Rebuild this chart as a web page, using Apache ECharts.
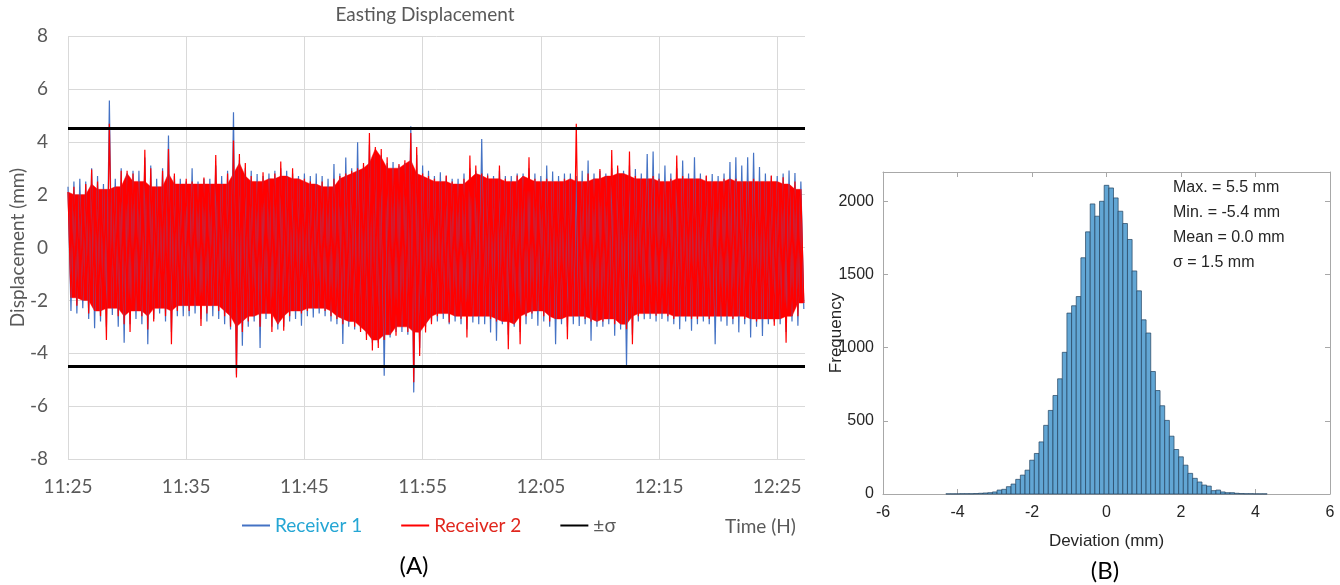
<!DOCTYPE html>
<html>
<head>
<meta charset="utf-8">
<script src="https://cdn.jsdelivr.net/npm/echarts@6/dist/echarts.min.js"></script>
<style>html,body{margin:0;padding:0;background:#fff}#c{width:1340px;height:585px}</style>
</head>
<body>
<div id="c"></div>
<script>
// ---------- Panel A: time series ----------
const timeTickLabels = ['11:25', '11:35', '11:45', '11:55', '12:05', '12:15', '12:25'];
const timeSpanMin = 62.35;       // minutes shown after 11:25
const stepMin = 0.5;             // one envelope column every half minute
// Receiver 1 (blue) column maxima / minima, mm
const r1High = [2.3, 2.5, 2.6, 2.5, 3.0, 2.7, 2.4, 5.56, 2.6, 3.0,
  2.8, 2.9, 2.9, 3.4, 3.1, 2.6, 3.0, 4.24, 2.7, 2.6,
  2.5, 3.0, 2.5, 2.6, 2.6, 3.1, 2.7, 2.9, 5.12, 3.3,
  3.0, 2.9, 2.78, 2.7, 2.8, 2.9, 3.0, 2.9, 2.8, 2.7,
  2.8, 2.7, 2.8, 2.7, 2.6, 3.16, 2.8, 3.4, 3.0, 3.98,
  3.1, 3.9, 3.5, 3.5, 3.2, 3.23, 3.1, 3.2, 4.59, 3.5,
  3.1, 2.9, 2.7, 2.85, 2.7, 2.6, 2.6, 2.8, 3.0, 2.9,
  4.1, 2.8, 2.7, 2.9, 2.7, 2.7, 2.8, 2.8, 3.0, 2.8,
  2.7, 3.1, 2.87, 2.7, 2.8, 2.8, 2.7, 2.9, 3.29, 2.8,
  2.9, 2.8, 3.0, 3.0, 2.9, 3.1, 2.97, 2.8, 3.54, 3.63,
  2.8, 3.1, 2.8, 3.0, 3.29, 2.8, 3.41, 2.8, 2.7, 2.78,
  2.7, 2.8, 3.23, 3.41, 3.1, 3.41, 3.58, 3.04, 2.8, 2.7,
  2.7, 2.8, 2.91, 2.82, 2.5];
const r1Low = [-2.4, -2.5, -2.3, -2.7, -3.05, -2.8, -3.0, -2.55, -3.0, -3.6,
  -2.9, -2.7, -2.9, -3.66, -2.7, -2.5, -2.8, -3.2, -2.6, -2.6,
  -2.6, -2.5, -2.7, -2.8, -2.6, -2.7, -2.9, -3.1, -4.8, -3.72,
  -3.0, -2.8, -3.8, -2.7, -3.0, -3.1, -3.0, -2.8, -2.7, -2.96,
  -2.6, -2.65, -2.5, -2.6, -2.8, -2.9, -3.65, -3.0, -3.1, -3.09,
  -3.3, -3.6, -3.6, -4.85, -3.4, -3.2, -3.2, -3.3, -5.48, -3.8,
  -3.0, -2.8, -2.8, -2.7, -2.9, -2.8, -2.9, -3.1, -2.84, -2.9,
  -2.9, -3.21, -3.53, -2.9, -3.3, -3.0, -3.2, -2.9, -2.7, -2.96,
  -2.8, -3.0, -3.66, -2.9, -3.0, -2.9, -2.97, -2.9, -3.53, -3.0,
  -3.0, -2.9, -3.34, -3.1, -4.48, -3.3, -2.8, -2.71, -2.7, -2.8,
  -2.7, -2.8, -2.9, -3.09, -2.8, -3.15, -2.9, -2.8, -2.9, -3.66,
  -2.8, -2.96, -2.9, -3.21, -2.9, -3.4, -3.0, -3.35, -2.9, -2.8,
  -2.9, -3.2, -2.8, -2.96, -2.33];
// Receiver 2 (red) column maxima / minima, mm
const r2High = [2.1, 2.3, 2.0, 2.4, 2.95, 2.5, 2.2, 4.68, 2.3, 2.9,
  2.9, 2.8, 2.5, 3.7, 3.0, 2.3, 2.9, 3.73, 2.8, 2.4,
  2.6, 2.5, 2.4, 2.65, 2.4, 3.5, 2.4, 2.8, 4.05, 3.54,
  3.2, 2.7, 2.5, 2.85, 2.6, 2.8, 3.25, 2.7, 3.0, 2.6,
  2.6, 2.5, 2.4, 2.5, 2.3, 2.6, 2.7, 2.8, 2.9, 3.0,
  3.2, 4.33, 3.8, 3.73, 3.41, 3.0, 3.16, 3.3, 4.33, 3.8,
  2.8, 2.7, 2.6, 2.5, 2.72, 2.5, 2.4, 2.6, 3.48, 3.1,
  2.8, 2.72, 2.6, 3.1, 2.6, 2.5, 2.72, 2.7, 3.41, 2.6,
  2.5, 2.6, 2.5, 2.5, 2.6, 2.6, 4.68, 2.5, 2.8, 2.6,
  2.97, 2.7, 3.69, 3.1, 2.8, 3.63, 2.7, 2.6, 2.6, 2.7,
  2.6, 2.5, 2.6, 3.48, 2.7, 2.6, 2.6, 2.6, 2.72, 2.5,
  2.5, 2.6, 2.6, 2.6, 2.5, 2.5, 2.6, 2.5, 2.5, 2.72,
  2.5, 2.66, 2.4, 2.5, 2.2];
const r2Low = [-1.9, -2.2, -2.0, -2.5, -2.4, -2.6, -3.5, -2.3, -2.6, -2.9,
  -3.2, -2.4, -2.6, -3.1, -2.8, -2.3, -2.6, -3.66, -2.4, -2.2,
  -2.4, -2.2, -2.97, -2.5, -2.2, -2.4, -2.6, -3.0, -4.92, -3.2,
  -2.8, -2.6, -3.0, -2.5, -3.2, -2.9, -3.15, -2.6, -2.4, -2.5,
  -2.4, -2.3, -2.3, -2.4, -2.6, -2.7, -2.9, -2.8, -3.0, -3.2,
  -3.5, -3.9, -3.8, -3.5, -3.3, -3.34, -3.0, -3.2, -5.1, -4.1,
  -3.21, -2.9, -2.6, -2.5, -2.84, -2.6, -2.7, -3.4, -2.6, -2.6,
  -2.6, -2.7, -2.8, -2.8, -3.85, -2.9, -3.66, -2.6, -2.5, -2.4,
  -2.6, -2.8, -2.7, -2.7, -3.47, -2.6, -2.6, -2.7, -2.8, -2.8,
  -2.8, -2.7, -2.9, -2.9, -3.09, -3.66, -2.6, -2.5, -2.5, -2.58,
  -2.5, -2.6, -2.7, -2.6, -2.6, -2.7, -2.7, -2.6, -2.7, -2.6,
  -2.6, -2.6, -2.7, -2.6, -2.7, -2.7, -2.8, -2.7, -2.7, -2.96,
  -2.7, -3.6, -2.6, -2.6, -2.1];
const sigmaLevels = [4.5, -4.5];

// ---------- Panel B: histogram ----------
const binWidth = 0.125;
const binFirstCenter = -4.25;
const binCounts = [1, 1, 1, 2, 2, 2, 3, 5, 7, 9,
  14, 27, 32, 50, 68, 100, 129, 163, 231, 277,
  356, 469, 571, 673, 787, 968, 1236, 1286, 1349, 1614,
  1791, 1982, 1898, 2000, 2109, 2091, 2023, 1932, 1848, 1739,
  1524, 1388, 1190, 1100, 837, 707, 603, 503, 395, 304,
  254, 197, 141, 107, 82, 61, 54, 23, 27, 14,
  9, 9, 5, 3, 2, 2, 1, 1, 1];
const statsLines = ['Max. = 5.5 mm', 'Min. = -5.4 mm', 'Mean = 0.0 mm', 'σ = 1.5 mm'];

// ---------- build ----------
function zigzag(hi, lo) {
  const d = [];
  for (let i = 0; i < hi.length; i++) {
    d.push([i * stepMin, hi[i]]);
    d.push([i * stepMin + stepMin / 2, lo[i]]);
  }
  return d;
}
// dense core of a trace: the envelope eroded over neighbouring columns
function coreBand(hi, lo, color, name, reach) {
  const win = (arr, i, f) => {
    let r = arr[i];
    for (let k = -reach; k <= reach; k++) if (arr[i + k] !== undefined) r = f(r, arr[i + k]);
    return r;
  };
  const cHi = hi.map((v, i) => win(hi, i, Math.min));
  const cLo = lo.map((v, i) => win(lo, i, Math.max));
  return {
    name: name, type: 'custom', xAxisIndex: 0, yAxisIndex: 0, silent: true,
    data: [[0, 0]],
    renderItem: function (params, api) {
      const pts = [];
      for (let i = 0; i < cHi.length; i++) pts.push(api.coord([i * stepMin, cHi[i]]));
      for (let i = cLo.length - 1; i >= 0; i--) pts.push(api.coord([i * stepMin + stepMin / 2, cLo[i]]));
      return { type: 'polygon', shape: { points: pts }, style: { fill: color, stroke: color, lineWidth: 0.5 } };
    }
  };
}

const histData = binCounts.map((c, k) => [binFirstCenter + k * binWidth, c]);
const fontA = 'Lato';
const fontB = 'Liberation Sans';
const greyA = '#595959';
const darkB = '#262626';
const boxB = '#a8a8a8';

const chart = echarts.init(document.getElementById('c'), null, { renderer: 'canvas' });
const option = {
  animation: false,
  backgroundColor: '#ffffff',
  grid: [
    { left: 68, top: 36, width: 737, height: 423, containLabel: false, outerBoundsMode: 'none' },
    { left: 883, top: 172, width: 447, height: 322, containLabel: false, outerBoundsMode: 'none' }
  ],
  xAxis: [
    {
      gridIndex: 0, type: 'value', min: 0, max: timeSpanMin, interval: 10,
      axisLine: { show: false }, axisTick: { show: false },
      axisLabel: {
        color: greyA, fontFamily: fontA, fontSize: 19, margin: 18, showMaxLabel: false,
        formatter: v => (Math.abs(v % 10) < 1e-6 ? timeTickLabels[Math.round(v / 10)] : '')
      },
      splitLine: { show: true, showMaxLine: false, lineStyle: { color: '#d9d9d9', width: 1 } }
    },
    {
      gridIndex: 1, type: 'value', min: -6, max: 6, interval: 2, position: 'bottom',
      axisLine: { show: true, onZero: false, lineStyle: { color: boxB, width: 1 } },
      axisTick: { show: true, inside: true, length: 5, lineStyle: { color: boxB } },
      axisLabel: { color: darkB, fontFamily: fontB, fontSize: 16, margin: 11, formatter: v => String(v) },
      splitLine: { show: false },
      name: 'Deviation (mm)', nameLocation: 'middle', nameGap: 39, nameMoveOverlap: false,
      nameTextStyle: { color: darkB, fontFamily: fontB, fontSize: 17 }
    },
    {
      gridIndex: 1, type: 'value', min: -6, max: 6, interval: 2, position: 'top',
      axisLine: { show: true, onZero: false, lineStyle: { color: boxB, width: 1 } },
      axisTick: { show: true, inside: true, length: 5, lineStyle: { color: boxB } },
      axisLabel: { show: false }, splitLine: { show: false }
    }
  ],
  yAxis: [
    {
      gridIndex: 0, type: 'value', min: -8, max: 8, interval: 2,
      axisLine: { show: false }, axisTick: { show: false },
      axisLabel: { color: greyA, fontFamily: fontA, fontSize: 19, margin: 20 },
      splitLine: { show: true, lineStyle: { color: '#d9d9d9', width: 1 } },
      name: 'Displacement (mm)', nameLocation: 'middle', nameGap: 41, nameMoveOverlap: false,
      nameTextStyle: { color: greyA, fontFamily: fontA, fontSize: 19 }
    },
    {
      gridIndex: 1, type: 'value', min: 0, max: 2200, interval: 500,
      axisLine: { show: true, onZero: false, lineStyle: { color: boxB, width: 1 } },
      axisTick: { show: true, inside: true, length: 5, lineStyle: { color: boxB } },
      axisLabel: { color: darkB, fontFamily: fontB, fontSize: 16, margin: 9, showMaxLabel: false, formatter: v => String(v) },
      splitLine: { show: false },
      name: 'Frequency', nameLocation: 'middle', nameGap: 38, nameMoveOverlap: false,
      nameTextStyle: { color: darkB, fontFamily: fontB, fontSize: 17 }
    },
    {
      gridIndex: 1, type: 'value', min: 0, max: 2200, interval: 500, position: 'right',
      axisLine: { show: true, onZero: false, lineStyle: { color: boxB, width: 1 } },
      axisTick: { show: true, inside: true, length: 5, lineStyle: { color: boxB } },
      axisLabel: { show: false }, splitLine: { show: false }
    }
  ],
  legend: {
    left: 241, top: 516, padding: 0, itemWidth: 28, itemHeight: 14, itemGap: 38,
    selectedMode: false,
    itemStyle: { opacity: 0 },
    textStyle: { fontFamily: fontA, fontSize: 19, color: greyA },
    data: [
      { name: 'Receiver 1', textStyle: { color: '#25a6d4' } },
      { name: 'Receiver 2', textStyle: { color: '#e0261d' } },
      { name: '±σ', textStyle: { color: greyA } }
    ]
  },
  series: [
    {
      name: 'Receiver 1', type: 'line', xAxisIndex: 0, yAxisIndex: 0,
      data: zigzag(r1High, r1Low), symbol: 'none', sampling: null,
      color: '#4472c4', lineStyle: { color: '#4472c4', width: 1.2 }
    },
    coreBand(r2High, r2Low, '#ff0000', 'r2core', 1),
    {
      name: 'Receiver 2', type: 'line', xAxisIndex: 0, yAxisIndex: 0,
      data: zigzag(r2High, r2Low), symbol: 'none', sampling: null,
      color: '#ff0000', lineStyle: { color: '#ff0000', width: 1.2 }
    },
    {
      name: '±σ', type: 'line', xAxisIndex: 0, yAxisIndex: 0, data: [],
      symbol: 'none', color: '#000000', lineStyle: { color: '#000000', width: 3 },
      markLine: {
        silent: true, symbol: 'none', label: { show: false },
        lineStyle: { color: '#000000', width: 3, type: 'solid' },
        data: sigmaLevels.map(v => ({ yAxis: v }))
      }
    },
    {
      name: 'hist', type: 'custom', xAxisIndex: 1, yAxisIndex: 1,
      data: histData,
      encode: { x: 0, y: 1 },
      renderItem: function (params, api) {
        const c = api.value(0), h = api.value(1);
        const p0 = api.coord([c - binWidth / 2, h]);
        const p1 = api.coord([c + binWidth / 2, 0]);
        return {
          type: 'rect',
          shape: { x: p0[0], y: p0[1], width: p1[0] - p0[0], height: p1[1] - p0[1] },
          style: { fill: '#62a6d4', stroke: '#22425f', lineWidth: 0.7 }
        };
      }
    }
  ],
  graphic: [
    { type: 'text', x: 425, y: 15, style: { text: 'Easting Displacement', align: 'center', verticalAlign: 'middle', font: '19px Lato', fill: greyA } },
    { type: 'text', x: 725, y: 527, style: { text: 'Time (H)', align: 'left', verticalAlign: 'middle', font: '19px Lato', fill: greyA } },
    { type: 'text', x: 414, y: 566, style: { text: '(A)', align: 'center', verticalAlign: 'middle', font: '24px Lato', fill: '#000000' } },
    { type: 'text', x: 1105, y: 571, style: { text: '(B)', align: 'center', verticalAlign: 'middle', font: '24px Lato', fill: '#000000' } }
  ].concat(statsLines.map((t, i) => ({
    type: 'text', x: 1173, y: 188 + i * 25,
    style: { text: t, align: 'left', verticalAlign: 'middle', font: '16px "Liberation Sans"', fill: darkB }
  })))
};
chart.setOption(option);
</script>
</body>
</html>
